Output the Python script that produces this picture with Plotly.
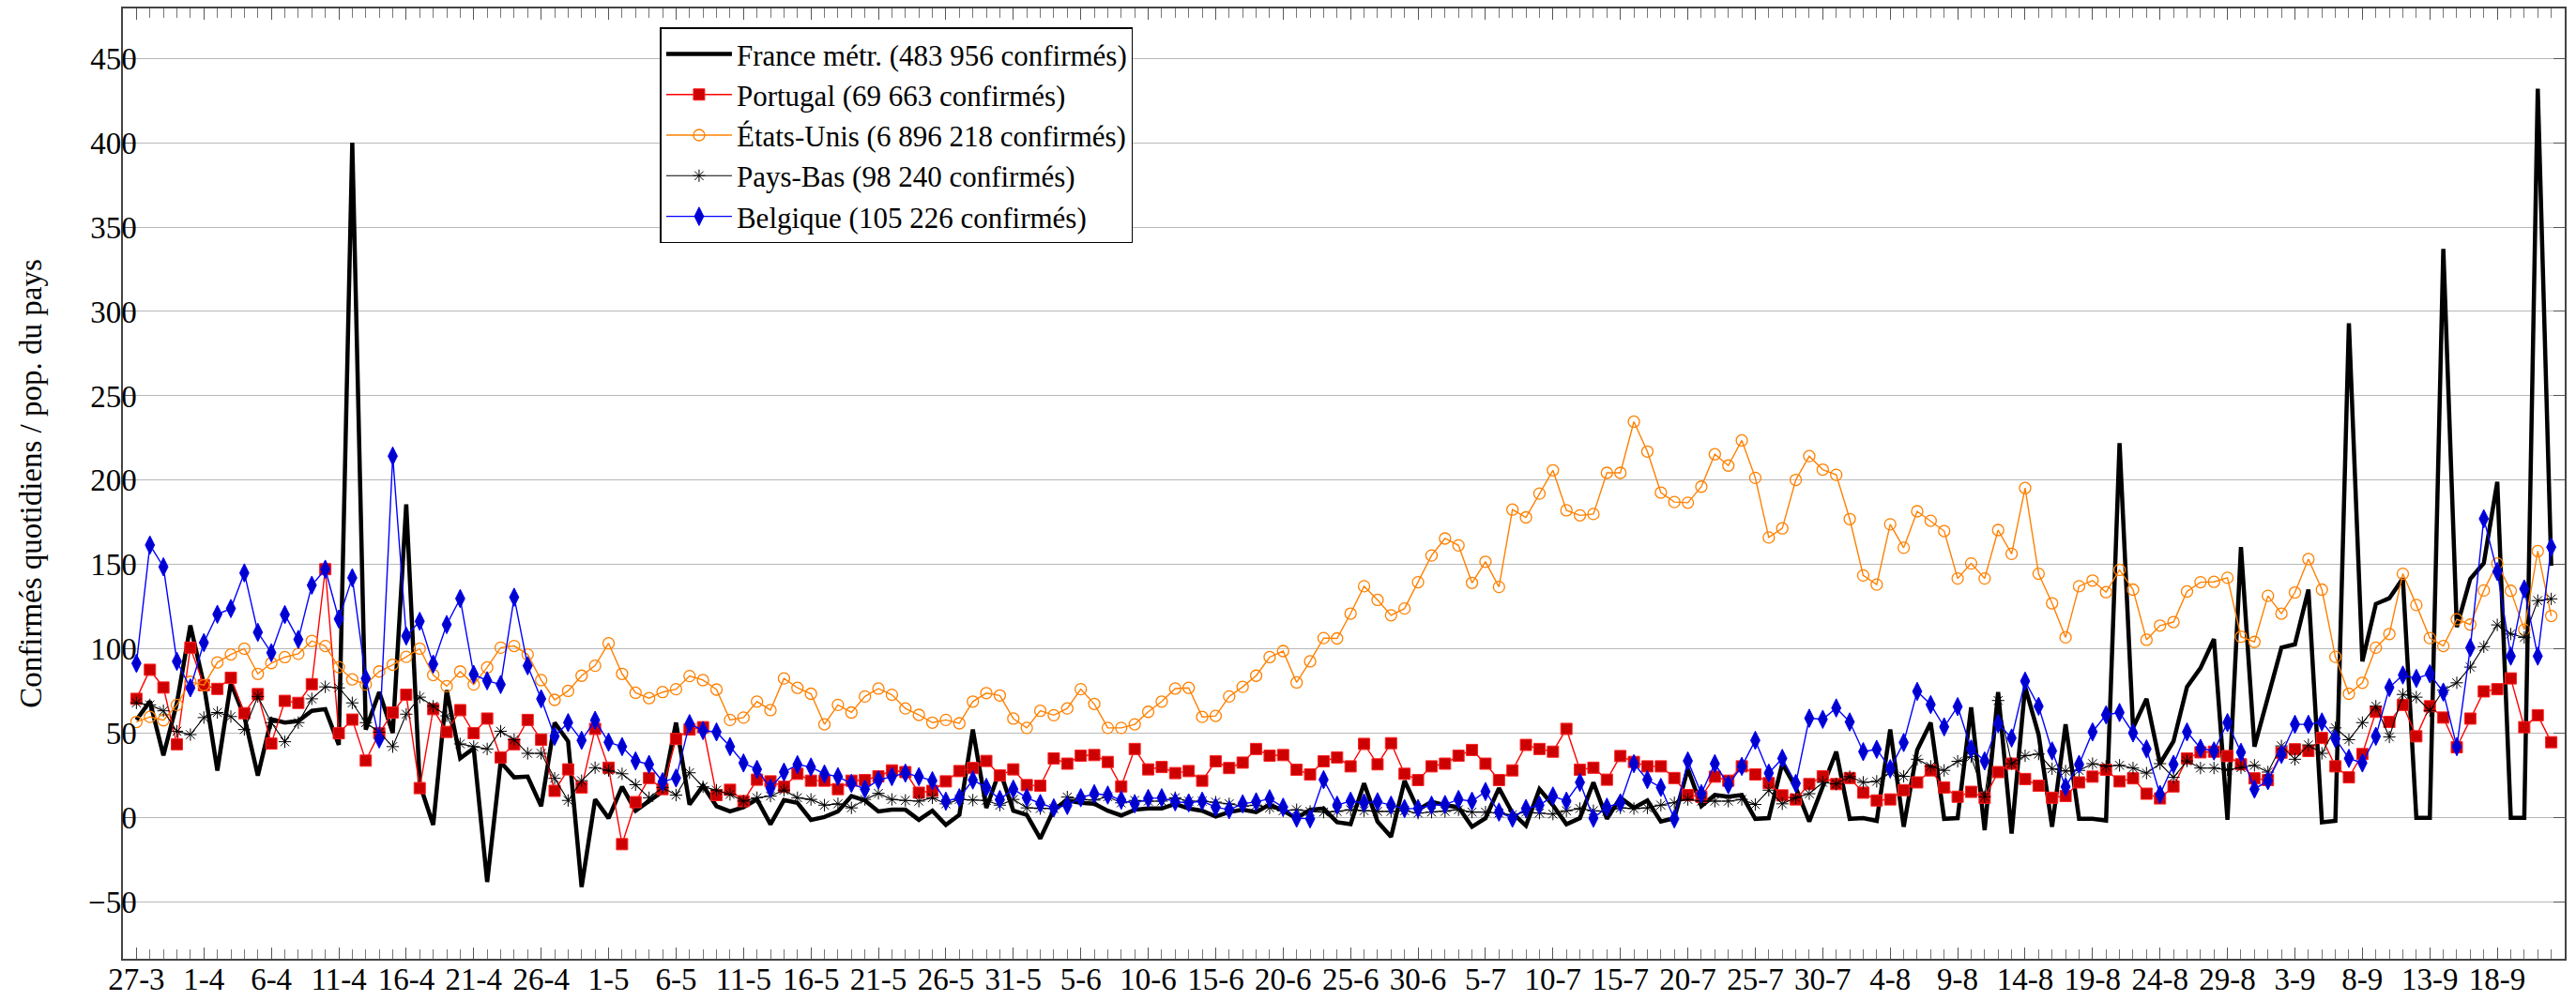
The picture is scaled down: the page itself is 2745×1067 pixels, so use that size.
import pandas as pd
import plotly.graph_objects as go

# ---------------- data ----------------
start_date = "2020-03-27"
n_days = 180
dates = pd.date_range(start_date, periods=n_days, freq="D")

tick_labels = ["27-3", "1-4", "6-4", "11-4", "16-4", "21-4", "26-4", "1-5", "6-5", "11-5",
               "16-5", "21-5", "26-5", "31-5", "5-6", "10-6", "15-6", "20-6", "25-6", "30-6",
               "5-7", "10-7", "15-7", "20-7", "25-7", "30-7", "4-8", "9-8", "14-8", "19-8",
               "24-8", "29-8", "3-9", "8-9", "13-9", "18-9"]

france = [58, 69, 37, 68, 114, 79, 28, 80, 60, 25,
          58.4, 56.4, 57.4, 63.4, 64.4, 43.2, 400, 52.3, 74.5, 50.3,
          185.7, 20, -4.2, 75.6, 35.2, 41.2, -38, 33.1, 24.0, 24.4,
          6.9, 56.4, 45.3, -41, 10.9, -0.2, 18.4, 4.2, 9.9, 15.6,
          56.4, 7.9, 19.0, 6.9, 3.8, 6.3, 10.9, -3.8, 10.5, 8.9,
          -1.2, 0.5, 3.8, 12.9, 10.3, 3.8, 4.8, 4.8, -1.2, 4.2,
          -4.2, 1.8, 52.3, 5.9, 28.1, 4.2, 1.8, -12.3, 4.8, 10.3,
          8.9, 8.3, 4.2, 1.4, 4.8, 5.5, 5.5, 8.3, 5.5, 4.2,
          0.8, 3.4, 4.8, 3.4, 7.9, 4.2, -0.2, 4.8, 5.5, -2.6,
          -3.8, 20.4, -2.2, -11.3, 22.0, 4.8, 9.5, 7.5, 6.3, -5.3,
          -0.2, 17.6, 2.8, -4.6, 17.0, 7.5, -3.8, -0.2, 21.0, -0.6,
          11.9, 5.9, 10.3, -2.2, -0.2, 29.1, 6.9, 13.5, 12.5, 13.5,
          -0.6, -0.2, 32.1, 18.0, -2.2, 19.0, 39.2, -0.6, -0.2, -1.8,
          52.3, -5.3, 40.2, 56.4, -0.6, -0.2, 65.5, -7.3, 74.5, -9.3,
          77.6, 49.3, -5.3, 55.4, -0.6, -0.6, -1.6, 222, 53.3, 70.5,
          32.1, 45.3, 77.6, 88.7, 105.9, -1.2, 160.4, 42.2, 71.5, 100.8,
          102.8, 135.2, -2.6, -1.8, 293, 92.7, 126.7, 130.1, 141.8, 0,
          0, 337, 113, 141.6, 150.9, 199, 0, 0, 432, 149.3]

portugal = [70.5, 87.7, 77.2, 43.6, 100.8, 78.6, 76.4, 83.0, 62.0, 73.3,
            44.0, 69.3, 68.1, 79.2, 147.3, 50.1, 58.2, 33.9, 50.1, 62.4,
            72.9, 17.6, 64.4, 50.9, 63.8, 50.2, 58.8, 35.8, 43.6, 58.0,
            46.3, 16.0, 28.7, 18.0, 52.7, 29.7, -15.6, 9.3, 23.6, 17.0,
            46.7, 52.3, 53.7, 13.5, 16.6, 9.9, 22.6, 21.6, 18.4, 26.1,
            22.0, 22.0, 17.0, 22.0, 22.4, 24.6, 28.1, 27.1, 14.9, 16.0,
            21.6, 27.7, 29.5, 33.7, 25.1, 28.7, 19.4, 19.0, 35.2, 32.1,
            36.8, 37.2, 33.1, 18.6, 40.8, 28.7, 30.1, 26.5, 27.7, 22.0,
            33.5, 29.5, 32.7, 40.8, 36.8, 37.2, 28.5, 25.7, 33.5, 35.8,
            30.5, 43.8, 31.7, 44.2, 26.1, 22.4, 30.5, 32.1, 36.8, 40.2,
            32.1, 22.4, 28.1, 43.2, 40.8, 39.2, 52.7, 28.5, 29.7, 22.6,
            36.6, 33.1, 30.5, 30.5, 23.6, 13.5, 12.5, 24.4, 22.0, 30.5,
            25.7, 20.6, 13.3, 10.9, 20.0, 24.6, 20.0, 23.6, 14.9, 10.3,
            10.9, 16.4, 21.0, 28.1, 18.0, 12.5, 15.4, 11.9, 27.1, 32.1,
            23.0, 19.0, 11.9, 12.9, 21.0, 24.4, 28.5, 21.6, 23.4, 14.3,
            11.5, 18.6, 35.2, 38.8, 39.2, 36.6, 31.7, 23.4, 22.4, 38.6,
            40.6, 39.6, 47.3, 30.5, 24.0, 37.8, 62.8, 56.8, 66.9, 48.3,
            66.1, 59.4, 41.8, 58.8, 74.9, 76.2, 82.6, 53.7, 60.8, 44.8]

etats_unis = [56.8, 59.8, 57.8, 66.9, 80.6, 78.6, 92.1, 96.8, 100.2, 85.3,
              91.7, 95.2, 97.2, 104.8, 101.8, 89.3, 82.0, 79.0, 86.7, 90.7,
              95.4, 100.2, 84.6, 78.0, 86.7, 79.0, 89.1, 100.8, 101.8, 96.8,
              81.6, 69.9, 75.2, 84.2, 90.1, 103.4, 85.3, 74.1, 70.9, 74.5,
              76.2, 84.0, 81.6, 76.0, 58.0, 59.4, 68.9, 63.8, 82.6, 77.0,
              73.5, 55.4, 66.9, 62.4, 71.9, 76.6, 72.9, 64.8, 61.0, 56.4,
              58.0, 56.0, 68.9, 73.9, 72.5, 58.8, 53.3, 63.4, 60.8, 64.8,
              76.2, 67.5, 53.3, 53.3, 55.4, 62.8, 68.9, 76.6, 77.0, 59.8,
              60.4, 71.9, 77.6, 84.2, 95.2, 98.8, 80.2, 92.7, 106.5, 106.3,
              121.0, 137.2, 129.1, 120.0, 124.0, 139.6, 155.4, 165.5, 161.4, 139.2,
              151.7, 136.8, 182.6, 178.0, 192.1, 205.9, 182.2, 179.2, 180.0, 204.4,
              204.4, 234.7, 217.0, 192.7, 187.1, 186.7, 196.2, 215.4, 208.7, 223.6,
              201.4, 166.1, 171.5, 200.2, 214.3, 206.3, 203.2, 177.0, 143.6, 138.2,
              173.9, 160.0, 181.6, 176.0, 169.9, 141.8, 150.7, 141.8, 170.5, 156.4,
              195.4, 144.6, 127.1, 106.9, 137.2, 140.6, 133.7, 146.9, 135.2, 105.5,
              113.9, 116.0, 134.1, 139.6, 139.8, 142.2, 107.3, 104.2, 131.5, 121.0,
              133.5, 153.3, 135.2, 95.4, 73.5, 80.0, 100.8, 108.9, 144.6, 126.1,
              106.5, 101.8, 117.6, 114.5, 134.7, 150.7, 134.5, 111.5, 158.0, 119.6]

pays_bas = [68.1, 66.9, 63.4, 51.3, 49.3, 59.4, 62.4, 60.0, 52.3, 71.9,
            56.4, 45.1, 56.4, 70.5, 77.6, 77.0, 68.1, 56.4, 50.7, 42.2,
            61.4, 71.5, 66.1, 60.4, 43.8, 42.2, 40.8, 51.3, 46.3, 38.2,
            38.2, 23.4, 10.3, 22.0, 29.7, 28.1, 26.1, 19.6, 11.9, 18.0,
            13.5, 26.7, 18.4, 16.4, 13.9, 9.9, 11.9, 12.9, 16.4, 11.9,
            10.9, 7.5, 8.3, 5.9, 10.9, 14.5, 10.9, 10.3, 9.9, 11.9,
            8.3, 10.9, 10.5, 10.3, 7.5, 10.9, 5.9, 5.5, 5.5, 12.3,
            10.9, 10.5, 12.5, 8.9, 10.3, 9.9, 9.9, 11.9, 9.9, 9.9,
            9.3, 8.3, 6.9, 7.5, 5.9, 4.2, 4.8, 3.8, 3.4, 3.8,
            4.8, 4.2, 3.8, 3.8, 4.2, 2.8, 3.4, 3.8, 4.8, 3.4,
            3.4, 2.8, 1.8, 3.4, 2.8, 2.2, 4.2, 5.5, 4.2, 3.8,
            5.9, 5.5, 5.9, 7.5, 8.9, 10.9, 9.9, 9.9, 9.9, 10.9,
            7.9, 16.4, 8.3, 11.9, 14.3, 21.0, 20.0, 24.4, 21.0, 21.6,
            27.1, 24.6, 34.7, 30.5, 28.1, 33.5, 36.2, 12.5, 69.5, 32.1,
            36.8, 37.8, 29.1, 27.7, 28.1, 32.1, 30.5, 31.1, 29.5, 26.5,
            32.1, 24.0, 33.7, 29.5, 29.5, 28.5, 29.7, 31.1, 27.1, 42.6,
            34.7, 43.2, 38.2, 53.3, 46.3, 56.4, 66.1, 47.9, 73.1, 71.5,
            63.4, 75.6, 80.0, 89.3, 101.4, 114.3, 108.9, 106.9, 128.7, 129.7]

belgique = [91.5, 161.6, 148.7, 92.7, 77.0, 103.8, 120.6, 124.0, 145.1, 109.9,
            97.8, 120.4, 105.7, 137.8, 147.3, 117.8, 142.2, 82.6, 46.7, 214.3,
            107.7, 116.4, 91.1, 114.5, 129.9, 85.0, 81.2, 79.0, 130.7, 90.1,
            70.5, 48.3, 56.4, 45.9, 57.8, 44.8, 42.2, 33.7, 31.7, 21.4,
            23.6, 55.8, 51.7, 50.9, 42.2, 32.5, 28.7, 17.6, 27.1, 31.5,
            30.1, 26.0, 24.4, 20.4, 17.0, 22.4, 24.4, 26.5, 24.4, 22.0,
            9.9, 11.9, 22.4, 18.0, 10.9, 17.0, 11.9, 8.5, 5.9, 7.3,
            11.9, 14.3, 13.5, 10.5, 8.3, 11.5, 11.9, 9.5, 8.9, 9.9,
            6.3, 4.8, 8.3, 9.5, 11.3, 6.3, -0.2, -0.6, 22.6, 7.5,
            9.9, 8.9, 9.5, 7.5, 5.5, 5.5, 7.5, 7.9, 10.9, 9.9,
            15.6, 3.4, -0.2, 5.5, 7.5, 12.9, 9.9, 21.0, -0.2, 6.3,
            8.9, 32.1, 22.6, 18.0, -0.6, 33.7, 14.3, 32.1, 19.6, 30.5,
            45.9, 26.5, 35.2, 20.4, 59.0, 58.4, 65.1, 56.8, 39.2, 40.6,
            29.1, 44.6, 74.9, 67.1, 53.9, 65.9, 40.8, 33.7, 55.8, 47.3,
            81.0, 66.1, 39.6, 18.4, 31.7, 50.9, 61.0, 62.4, 50.3, 40.8,
            13.9, 31.7, 50.9, 41.2, 39.6, 56.4, 38.8, 17.0, 22.0, 37.6,
            55.4, 55.4, 56.8, 46.9, 35.2, 32.5, 48.3, 77.2, 84.6, 82.6,
            85.3, 74.5, 42.2, 100.8, 177.2, 145.9, 95.8, 135.6, 95.8, 160.4]

names = ["France métr. (483 956 confirmés)",
         "Portugal (69 663 confirmés)",
         "États-Unis (6 896 218 confirmés)",
         "Pays-Bas (98 240 confirmés)",
         "Belgique (105 226 confirmés)"]

y_ticks = [-50, 0, 50, 100, 150, 200, 250, 300, 350, 400, 450]
y_title = "Confirmés quotidiens / pop. du pays"

for s in (france, portugal, etats_unis, pays_bas, belgique):
    assert len(s) == n_days, len(s)

# ---------------- figure ----------------
FONT = "Liberation Serif, DejaVu Serif, serif"
FS = 33
fig = go.Figure()

fig.add_trace(go.Scatter(x=dates, y=france, name=names[0], mode="lines",
                         line=dict(color="black", width=4.5)))
fig.add_trace(go.Scatter(x=dates, y=portugal, name=names[1], mode="lines+markers",
                         line=dict(color="#ff0000", width=1.4),
                         marker=dict(symbol="square", size=12, color="#cc0000",
                                     line=dict(color="#ff2020", width=1))))
fig.add_trace(go.Scatter(x=dates, y=etats_unis, name=names[2], mode="lines+markers",
                         line=dict(color="#ff8000", width=1.4),
                         marker=dict(symbol="circle-open", size=12, color="#ff8000",
                                     line=dict(color="#ff8000", width=1.3))))
fig.add_trace(go.Scatter(x=dates, y=pays_bas, name=names[3], mode="lines+markers",
                         line=dict(color="black", width=1.1),
                         marker=dict(symbol="asterisk-open", size=11, color="black",
                                     line=dict(color="black", width=1))))
fig.add_trace(go.Scatter(x=dates, y=belgique, name=names[4], mode="lines+markers",
                         line=dict(color="#0000ff", width=1.4),
                         marker=dict(symbol="diamond-tall", size=14, color="#0000cc",
                                     line=dict(color="#0000ff", width=1))))

x_min = dates[0] - pd.Timedelta(days=1)
x_max = dates[-1] + pd.Timedelta(days=1)

fig.update_layout(
    width=2745, height=1067,
    margin=dict(l=131, r=12, t=9, b=45, autoexpand=False),
    paper_bgcolor="white", plot_bgcolor="white",
    font=dict(family=FONT, size=FS, color="black"),
    showlegend=True,
    legend=dict(x=0.220, y=0.980, xanchor="left", yanchor="top",
                bgcolor="white", bordercolor="black", borderwidth=1.5,
                font=dict(family=FONT, size=31), itemwidth=70,
                tracegroupgap=0),
    xaxis=dict(
        type="date", range=[x_min, x_max], automargin=False,
        tickmode="array", tickvals=list(dates[::5]), ticktext=tick_labels,
        ticks="inside", ticklen=12, tickcolor="#555555", tickwidth=1,
        ticklabelstandoff=-8,
        showgrid=False, zeroline=False,
        showline=True, linecolor="#444444", linewidth=1.5, mirror="allticks",
        tickfont=dict(family=FONT, size=FS),
        minor=dict(ticks="inside", ticklen=10, tickcolor="#777777", tickwidth=1,
                   dtick=86400000, tick0=start_date, showgrid=False),
    ),
    yaxis=dict(
        range=[-83.5, 479.5], automargin=False,
        tickmode="array", tickvals=y_ticks,
        ticks="inside", ticklen=12, tickcolor="#555555", tickwidth=1,
        ticklabelstandoff=-23,
        showgrid=True, gridcolor="#b8b8b8", gridwidth=1, zeroline=False,
        showline=True, linecolor="#444444", linewidth=1.5, mirror="allticks",
        tickfont=dict(family=FONT, size=FS),
        title=dict(text=y_title, font=dict(family=FONT, size=FS), standoff=39),
    ),
)

fig.write_html("out.html", config={"displayModeBar": False},
               post_script="document.body.style.margin='0';")
